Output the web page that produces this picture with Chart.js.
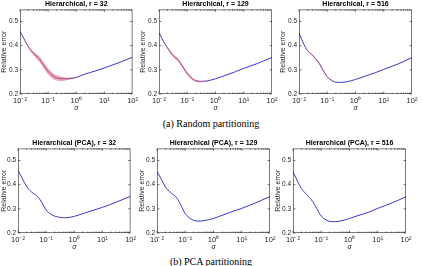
<!DOCTYPE html>
<html>
<head>
<meta charset="utf-8">
<script src="https://cdn.jsdelivr.net/npm/chart.js@4"></script>
<style>
  body { margin: 0; background: #fff; width: 422px; height: 266px; overflow: hidden; position: relative; }
  canvas { position: absolute; }
  .cap { position: absolute; left: 0; width: 422px; text-align: center; font-family: "Liberation Serif", "DejaVu Serif", serif; font-size: 10px; line-height: 10px; color: #000; }
</style>
</head>
<body>
<div class="cap" style="top:119px">(a) Random partitioning</div>
<div class="cap" style="top:257px">(b) PCA partitioning</div>
<script>
// sigma values where the curves were read
const sigma = [0.01, 0.015, 0.02, 0.03, 0.05, 0.07, 0.1, 0.15, 0.2, 0.3, 0.5, 1, 2, 5, 10, 30, 100];

// random partitioning: mean relative error and spread of the shaded band
const errRandom32  = [0.460, 0.421, 0.395, 0.368, 0.343, 0.318, 0.294, 0.274, 0.267, 0.263, 0.263, 0.269, 0.282, 0.296, 0.308, 0.328, 0.352];
const errRandom129 = [0.453, 0.414, 0.390, 0.362, 0.338, 0.312, 0.285, 0.263, 0.255, 0.252, 0.254, 0.263, 0.275, 0.292, 0.306, 0.326, 0.351];
const errRandom516 = [0.452, 0.405, 0.380, 0.360, 0.330, 0.300, 0.272, 0.255, 0.249, 0.248, 0.251, 0.260, 0.272, 0.288, 0.302, 0.323, 0.351];
const spreadRandom32  = [0, 0.002, 0.005, 0.008, 0.012, 0.013, 0.013, 0.012, 0.011, 0.009, 0.005, 0.002, 0, 0, 0, 0, 0];
const spreadRandom129 = [0, 0.002, 0.004, 0.006, 0.007, 0.007, 0.006, 0.005, 0.004, 0.003, 0.001, 0, 0, 0, 0, 0, 0];
const spreadRandom516 = [0, 0.001, 0.002, 0.003, 0.004, 0.004, 0.003, 0.002, 0.001, 0, 0, 0, 0, 0, 0, 0, 0];

// PCA partitioning
const errPca32  = [0.460, 0.420, 0.393, 0.370, 0.350, 0.327, 0.295, 0.277, 0.270, 0.265, 0.263, 0.269, 0.280, 0.295, 0.306, 0.327, 0.352];
const errPca129 = [0.454, 0.418, 0.390, 0.368, 0.345, 0.315, 0.280, 0.260, 0.252, 0.249, 0.252, 0.260, 0.273, 0.290, 0.302, 0.324, 0.351];
const errPca516 = [0.453, 0.410, 0.383, 0.360, 0.330, 0.300, 0.270, 0.254, 0.248, 0.247, 0.250, 0.260, 0.272, 0.287, 0.302, 0.323, 0.350];
const spreadNone = [0, 0, 0, 0, 0, 0, 0, 0, 0, 0, 0, 0, 0, 0, 0, 0, 0];

const xTickValues = [0.01, 0.1, 1, 10, 100];
const xTickLabels = ['10⁻²', '10⁻¹', '10⁰', '10¹', '10²'];
const yTickValues = [0.2, 0.3, 0.4, 0.5];
const yTickLabels = ['0.2', '0.3', '0.4', '0.5'];

const FONT = '"Liberation Sans", Arial, sans-serif';
const AXIS = '#262626';

// draws the matlab style box with inward ticks
const boxPlugin = {
    id: 'box',
    afterDraw(chart) {
        const {ctx, chartArea: a, scales: {x, y}} = chart;
        ctx.save();
        ctx.strokeStyle = AXIS;
        ctx.lineWidth = 0.6;
        ctx.strokeRect(a.left + 0.5, a.top + 0.5, a.right - a.left - 1, a.bottom - a.top - 1);
        ctx.beginPath();
        for (let d = -2; d < 2; d++) {
            for (let k = 1; k < 10; k++) {
                let px = x.getPixelForValue(k * Math.pow(10, d));
                let len = k == 1 ? 2.5 : 1.5;
                ctx.moveTo(px, a.bottom); ctx.lineTo(px, a.bottom - len);
                ctx.moveTo(px, a.top); ctx.lineTo(px, a.top + len);
            }
        }
        yTickValues.forEach(v => {
            let py = y.getPixelForValue(v);
            ctx.moveTo(a.left, py); ctx.lineTo(a.left + 2.5, py);
            ctx.moveTo(a.right, py); ctx.lineTo(a.right - 2.5, py);
        });
        ctx.stroke();
        ctx.restore();
    }
};

const panels = [
    {title: 'Hierarchical, r = 32',        err: errRandom32,  spread: spreadRandom32,  left: 0,   top: 0,   width: 140, yw: 20},
    {title: 'Hierarchical, r = 129',       err: errRandom129, spread: spreadRandom129, left: 139, top: 0,   width: 143, yw: 20},
    {title: 'Hierarchical, r = 516',       err: errRandom516, spread: spreadRandom516, left: 279, top: 0,   width: 143, yw: 20},
    {title: 'Hierarchical (PCA), r = 32',  err: errPca32,     spread: spreadNone,      left: 0,   top: 139, width: 138, yw: 18},
    {title: 'Hierarchical (PCA), r = 129', err: errPca129,    spread: spreadNone,      left: 138, top: 139, width: 143, yw: 19},
    {title: 'Hierarchical (PCA), r = 516', err: errPca516,    spread: spreadNone,      left: 274, top: 139, width: 148, yw: 19}
];

function drawPanel(p) {
    let canvas = document.createElement('canvas');
    canvas.width = p.width;
    canvas.height = 112;
    canvas.style.left = p.left + 'px';
    canvas.style.top = p.top + 'px';
    document.body.appendChild(canvas);

    let main = sigma.map((s, i) => ({x: s, y: p.err[i]}));
    let lower = sigma.map((s, i) => ({x: s, y: p.err[i] - p.spread[i]}));
    let upper = sigma.map((s, i) => ({x: s, y: p.err[i] + p.spread[i]}));

    new Chart(canvas.getContext('2d'), {
        type: 'line',
        data: {
            datasets: [
                {data: lower, borderWidth: 0, pointRadius: 0, fill: false, cubicInterpolationMode: 'monotone'},
                {data: upper, borderWidth: 0, pointRadius: 0, fill: '-1', backgroundColor: 'rgba(232,96,120,0.55)', cubicInterpolationMode: 'monotone'},
                {data: main, borderColor: '#3838c8', borderWidth: 1, pointRadius: 0, fill: false, cubicInterpolationMode: 'monotone'}
            ]
        },
        options: {
            responsive: false,
            animation: false,
            layout: {padding: {left: 0, right: p.width - p.yw - 113, top: 0, bottom: 0}},
            plugins: {
                legend: {display: false},
                tooltip: {enabled: false},
                title: {
                    display: true, text: p.title, fullSize: false, color: '#000',
                    font: {family: FONT, size: 7, weight: 'bold'},
                    padding: {top: 0, bottom: 1}
                }
            },
            scales: {
                x: {
                    type: 'logarithmic', min: 0.01, max: 100,
                    grid: {display: false, drawTicks: false},
                    border: {display: false},
                    afterBuildTicks: s => { s.ticks = xTickValues.map(v => ({value: v})) },
                    ticks: {callback: (v, i) => xTickLabels[i], font: {family: FONT, size: 7.5}, color: AXIS, padding: 2, maxRotation: 0, autoSkip: false},
                    title: {display: true, text: 'σ', color: AXIS, font: {family: FONT, size: 7, style: 'italic'}, padding: 0},
                    afterFit: s => { s.height = 18 }
                },
                y: {
                    min: 0.2, max: 0.55,
                    grid: {display: false, drawTicks: false},
                    border: {display: false},
                    afterBuildTicks: s => { s.ticks = yTickValues.map(v => ({value: v})) },
                    ticks: {callback: (v, i) => yTickLabels[i], font: {family: FONT, size: 6.5}, color: AXIS, padding: 2, autoSkip: false},
                    title: {display: true, text: 'Relative error', color: AXIS, font: {family: FONT, size: 7}, padding: 0},
                    afterFit: s => { s.width = p.yw }
                }
            }
        },
        plugins: [boxPlugin]
    });
}

panels.forEach(drawPanel);
</script>
</body>
</html>
